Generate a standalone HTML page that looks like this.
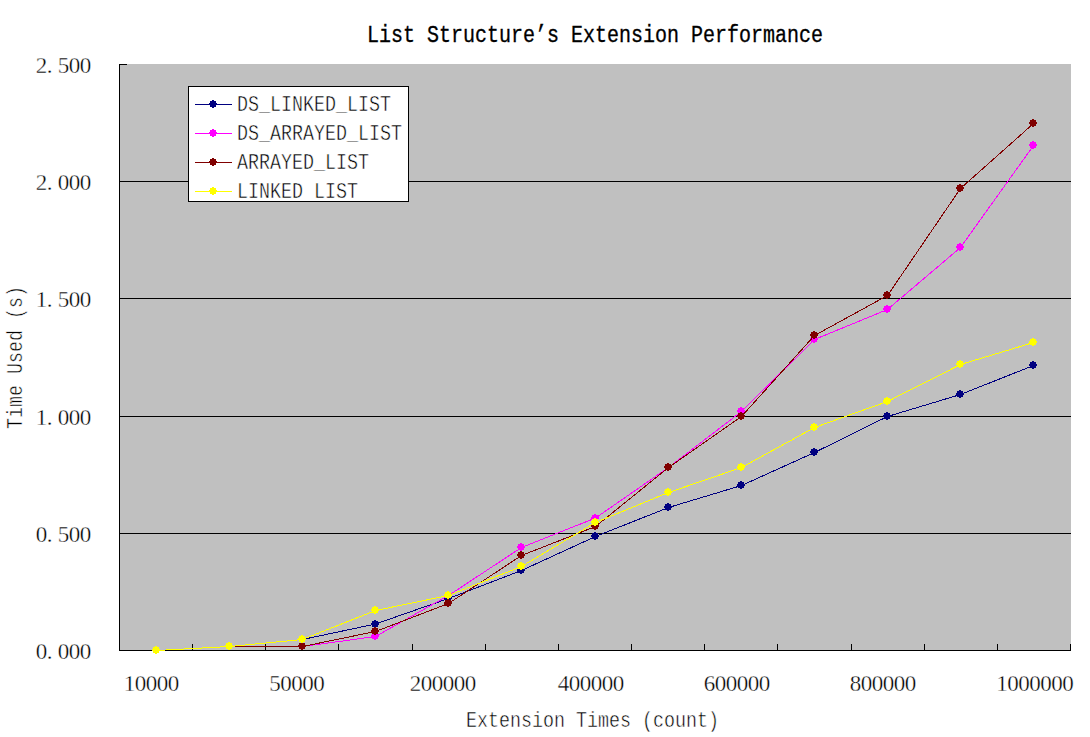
<!DOCTYPE html>
<html lang="en">
<head>
<meta charset="utf-8">
<title>List Structure’s Extension Performance</title>
<style>
html,body{margin:0;padding:0;background:#fff;}
body{width:1090px;height:737px;overflow:hidden;}
svg{display:block;}
svg text{font-family:'Liberation Mono', monospace;fill:#000;stroke:#fff;stroke-width:0.5px;paint-order:fill;}
svg text.ttl{stroke:#000;stroke-width:0.3px;}
svg text.num{font-family:'Liberation Serif',serif;stroke-width:0.35px;}
.crisp{shape-rendering:crispEdges;}
</style>
</head>
<body>
<svg width="1090" height="737" viewBox="0 0 1090 737">
<rect x="0" y="0" width="1090" height="737" fill="#ffffff"/>
<g class="crisp">
<rect x="120" y="64" width="951" height="586" fill="#c0c0c0"/>
<rect x="120" y="181" width="951" height="1" fill="#000"/>
<rect x="120" y="298" width="951" height="1" fill="#000"/>
<rect x="120" y="416" width="951" height="1" fill="#000"/>
<rect x="120" y="533" width="951" height="1" fill="#000"/>
<rect x="119" y="64" width="1" height="587" fill="#000"/>
<rect x="119" y="650" width="952" height="1" fill="#000"/>
<rect x="119" y="64" width="8" height="1" fill="#000"/>
<rect x="119" y="644" width="1" height="7" fill="#000"/>
<rect x="192" y="644" width="1" height="7" fill="#000"/>
<rect x="265" y="644" width="1" height="7" fill="#000"/>
<rect x="338" y="644" width="1" height="7" fill="#000"/>
<rect x="412" y="644" width="1" height="7" fill="#000"/>
<rect x="485" y="644" width="1" height="7" fill="#000"/>
<rect x="558" y="644" width="1" height="7" fill="#000"/>
<rect x="631" y="644" width="1" height="7" fill="#000"/>
<rect x="704" y="644" width="1" height="7" fill="#000"/>
<rect x="777" y="644" width="1" height="7" fill="#000"/>
<rect x="851" y="644" width="1" height="7" fill="#000"/>
<rect x="924" y="644" width="1" height="7" fill="#000"/>
<rect x="997" y="644" width="1" height="7" fill="#000"/>
<rect x="1070" y="644" width="1" height="7" fill="#000"/>
</g>
<g class="crisp"><polyline points="156.5,650.5 229.5,646.5 302.5,639.5 375.5,624.0 448.5,598.5 521.5,570.5 595.5,536.5 668.5,507.5 741.5,485.5 814.5,452.5 887.5,416.5 960.5,394.5 1033.5,365.5" fill="none" stroke="#000080" stroke-width="1"/>
<path fill="#000080" d="M155 646h2v1h2v2h1v2h-1v2h-2v1h-2v-1h-2v-2h-1v-2h1v-2h2zM228 642h2v1h2v2h1v2h-1v2h-2v1h-2v-1h-2v-2h-1v-2h1v-2h2zM301 635h2v1h2v2h1v2h-1v2h-2v1h-2v-1h-2v-2h-1v-2h1v-2h2zM374 620h2v1h2v2h1v2h-1v2h-2v1h-2v-1h-2v-2h-1v-2h1v-2h2zM447 594h2v1h2v2h1v2h-1v2h-2v1h-2v-1h-2v-2h-1v-2h1v-2h2zM520 566h2v1h2v2h1v2h-1v2h-2v1h-2v-1h-2v-2h-1v-2h1v-2h2zM594 532h2v1h2v2h1v2h-1v2h-2v1h-2v-1h-2v-2h-1v-2h1v-2h2zM667 503h2v1h2v2h1v2h-1v2h-2v1h-2v-1h-2v-2h-1v-2h1v-2h2zM740 481h2v1h2v2h1v2h-1v2h-2v1h-2v-1h-2v-2h-1v-2h1v-2h2zM813 448h2v1h2v2h1v2h-1v2h-2v1h-2v-1h-2v-2h-1v-2h1v-2h2zM886 412h2v1h2v2h1v2h-1v2h-2v1h-2v-1h-2v-2h-1v-2h1v-2h2zM959 390h2v1h2v2h1v2h-1v2h-2v1h-2v-1h-2v-2h-1v-2h1v-2h2zM1032 361h2v1h2v2h1v2h-1v2h-2v1h-2v-1h-2v-2h-1v-2h1v-2h2z"/>
</g>
<g class="crisp"><polyline points="156.5,650.5 229.5,646.5 302.5,646.5 375.5,636.5 448.5,595.5 521.5,547.5 595.5,518.0 668.5,467.5 741.5,411.5 814.5,339.5 887.5,309.5 960.5,247.5 1033.5,145.5" fill="none" stroke="#FF00FF" stroke-width="1"/>
<path fill="#FF00FF" d="M155 646h2v1h2v2h1v2h-1v2h-2v1h-2v-1h-2v-2h-1v-2h1v-2h2zM228 642h2v1h2v2h1v2h-1v2h-2v1h-2v-1h-2v-2h-1v-2h1v-2h2zM301 642h2v1h2v2h1v2h-1v2h-2v1h-2v-1h-2v-2h-1v-2h1v-2h2zM374 632h2v1h2v2h1v2h-1v2h-2v1h-2v-1h-2v-2h-1v-2h1v-2h2zM447 591h2v1h2v2h1v2h-1v2h-2v1h-2v-1h-2v-2h-1v-2h1v-2h2zM520 543h2v1h2v2h1v2h-1v2h-2v1h-2v-1h-2v-2h-1v-2h1v-2h2zM594 514h2v1h2v2h1v2h-1v2h-2v1h-2v-1h-2v-2h-1v-2h1v-2h2zM667 463h2v1h2v2h1v2h-1v2h-2v1h-2v-1h-2v-2h-1v-2h1v-2h2zM740 407h2v1h2v2h1v2h-1v2h-2v1h-2v-1h-2v-2h-1v-2h1v-2h2zM813 335h2v1h2v2h1v2h-1v2h-2v1h-2v-1h-2v-2h-1v-2h1v-2h2zM886 305h2v1h2v2h1v2h-1v2h-2v1h-2v-1h-2v-2h-1v-2h1v-2h2zM959 243h2v1h2v2h1v2h-1v2h-2v1h-2v-1h-2v-2h-1v-2h1v-2h2zM1032 141h2v1h2v2h1v2h-1v2h-2v1h-2v-1h-2v-2h-1v-2h1v-2h2z"/>
</g>
<g class="crisp"><polyline points="156.5,650.5 229.5,646.5 302.5,646.5 375.5,631.5 448.5,603.5 521.5,555.5 595.5,526.5 668.5,467.5 741.5,416.5 814.5,335.5 887.5,295.5 960.5,188.5 1033.5,123.5" fill="none" stroke="#800000" stroke-width="1"/>
<path fill="#800000" d="M155 646h2v1h2v2h1v2h-1v2h-2v1h-2v-1h-2v-2h-1v-2h1v-2h2zM228 642h2v1h2v2h1v2h-1v2h-2v1h-2v-1h-2v-2h-1v-2h1v-2h2zM301 642h2v1h2v2h1v2h-1v2h-2v1h-2v-1h-2v-2h-1v-2h1v-2h2zM374 627h2v1h2v2h1v2h-1v2h-2v1h-2v-1h-2v-2h-1v-2h1v-2h2zM447 599h2v1h2v2h1v2h-1v2h-2v1h-2v-1h-2v-2h-1v-2h1v-2h2zM520 551h2v1h2v2h1v2h-1v2h-2v1h-2v-1h-2v-2h-1v-2h1v-2h2zM594 522h2v1h2v2h1v2h-1v2h-2v1h-2v-1h-2v-2h-1v-2h1v-2h2zM667 463h2v1h2v2h1v2h-1v2h-2v1h-2v-1h-2v-2h-1v-2h1v-2h2zM740 412h2v1h2v2h1v2h-1v2h-2v1h-2v-1h-2v-2h-1v-2h1v-2h2zM813 331h2v1h2v2h1v2h-1v2h-2v1h-2v-1h-2v-2h-1v-2h1v-2h2zM886 291h2v1h2v2h1v2h-1v2h-2v1h-2v-1h-2v-2h-1v-2h1v-2h2zM959 184h2v1h2v2h1v2h-1v2h-2v1h-2v-1h-2v-2h-1v-2h1v-2h2zM1032 119h2v1h2v2h1v2h-1v2h-2v1h-2v-1h-2v-2h-1v-2h1v-2h2z"/>
</g>
<g class="crisp"><polyline points="156.5,650.5 229.5,646.5 302.5,639.5 375.5,610.5 448.5,595.5 521.5,566.5 595.5,522.5 668.5,492.5 741.5,467.5 814.5,427.5 887.5,401.5 960.5,364.5 1033.5,342.5" fill="none" stroke="#FFFF00" stroke-width="1"/>
<path fill="#FFFF00" d="M155 646h2v1h2v2h1v2h-1v2h-2v1h-2v-1h-2v-2h-1v-2h1v-2h2zM228 642h2v1h2v2h1v2h-1v2h-2v1h-2v-1h-2v-2h-1v-2h1v-2h2zM301 635h2v1h2v2h1v2h-1v2h-2v1h-2v-1h-2v-2h-1v-2h1v-2h2zM374 606h2v1h2v2h1v2h-1v2h-2v1h-2v-1h-2v-2h-1v-2h1v-2h2zM447 591h2v1h2v2h1v2h-1v2h-2v1h-2v-1h-2v-2h-1v-2h1v-2h2zM520 562h2v1h2v2h1v2h-1v2h-2v1h-2v-1h-2v-2h-1v-2h1v-2h2zM594 518h2v1h2v2h1v2h-1v2h-2v1h-2v-1h-2v-2h-1v-2h1v-2h2zM667 488h2v1h2v2h1v2h-1v2h-2v1h-2v-1h-2v-2h-1v-2h1v-2h2zM740 463h2v1h2v2h1v2h-1v2h-2v1h-2v-1h-2v-2h-1v-2h1v-2h2zM813 423h2v1h2v2h1v2h-1v2h-2v1h-2v-1h-2v-2h-1v-2h1v-2h2zM886 397h2v1h2v2h1v2h-1v2h-2v1h-2v-1h-2v-2h-1v-2h1v-2h2zM959 360h2v1h2v2h1v2h-1v2h-2v1h-2v-1h-2v-2h-1v-2h1v-2h2zM1032 338h2v1h2v2h1v2h-1v2h-2v1h-2v-1h-2v-2h-1v-2h1v-2h2z"/>
</g>
<g class="crisp"><rect x="188.5" y="86.5" width="220" height="115" fill="#fff" stroke="#000" stroke-width="1"/></g>
<clipPath id="lg"><rect x="189" y="87" width="219" height="111.5"/></clipPath>
<g clip-path="url(#lg)">
<g class="crisp"><rect x="195" y="104" width="37" height="1" fill="#000080"/><path fill="#000080" d="M212 100h2v1h2v2h1v2h-1v2h-2v1h-2v-1h-2v-2h-1v-2h1v-2h2z"/></g>
<text x="237" y="111" font-size="22" textLength="154" lengthAdjust="spacingAndGlyphs">DS_LINKED_LIST</text>
<g class="crisp"><rect x="195" y="133" width="37" height="1" fill="#FF00FF"/><path fill="#FF00FF" d="M212 129h2v1h2v2h1v2h-1v2h-2v1h-2v-1h-2v-2h-1v-2h1v-2h2z"/></g>
<text x="237" y="140" font-size="22" textLength="165" lengthAdjust="spacingAndGlyphs">DS_ARRAYED_LIST</text>
<g class="crisp"><rect x="195" y="162" width="37" height="1" fill="#800000"/><path fill="#800000" d="M212 158h2v1h2v2h1v2h-1v2h-2v1h-2v-1h-2v-2h-1v-2h1v-2h2z"/></g>
<text x="237" y="169" font-size="22" textLength="132" lengthAdjust="spacingAndGlyphs">ARRAYED_LIST</text>
<g class="crisp"><rect x="195" y="191" width="37" height="1" fill="#FFFF00"/><path fill="#FFFF00" d="M212 187h2v1h2v2h1v2h-1v2h-2v1h-2v-1h-2v-2h-1v-2h1v-2h2z"/></g>
<text x="237" y="198" font-size="22" textLength="121" lengthAdjust="spacingAndGlyphs">LINKED_LIST</text>
</g>
<text x="367" y="42" font-size="23" textLength="456" lengthAdjust="spacingAndGlyphs" class="ttl">List Structure’s Extension Performance</text>
<text class="num" x="35.75 46.75 57.75 68.75 79.75" y="73" font-size="23">2.500</text>
<text class="num" x="35.75 46.75 57.75 68.75 79.75" y="190" font-size="23">2.000</text>
<text class="num" x="35.75 46.75 57.75 68.75 79.75" y="307" font-size="23">1.500</text>
<text class="num" x="35.75 46.75 57.75 68.75 79.75" y="425" font-size="23">1.000</text>
<text class="num" x="35.75 46.75 57.75 68.75 79.75" y="542" font-size="23">0.500</text>
<text class="num" x="35.75 46.75 57.75 68.75 79.75" y="659" font-size="23">0.000</text>
<text class="num" x="123.75 134.75 145.75 156.75 167.75" y="691" font-size="23">10000</text>
<text class="num" x="269.25 280.25 291.25 302.25 313.25" y="691" font-size="23">50000</text>
<text class="num" x="409.75 420.75 431.75 442.75 453.75 464.75" y="691" font-size="23">200000</text>
<text class="num" x="557.75 568.75 579.75 590.75 601.75 612.75" y="691" font-size="23">400000</text>
<text class="num" x="703.75 714.75 725.75 736.75 747.75 758.75" y="691" font-size="23">600000</text>
<text class="num" x="849.75 860.75 871.75 882.75 893.75 904.75" y="691" font-size="23">800000</text>
<text class="num" x="996.25 1007.25 1018.25 1029.25 1040.25 1051.25 1062.25" y="691" font-size="23">1000000</text>
<text x="466" y="727" font-size="22" textLength="253" lengthAdjust="spacingAndGlyphs">Extension Times (count)</text>
<g transform="translate(21.5,429) rotate(-90)"><text x="0" y="0" font-size="22" textLength="143" lengthAdjust="spacingAndGlyphs">Time Used (s)</text></g>
</svg>
</body>
</html>
